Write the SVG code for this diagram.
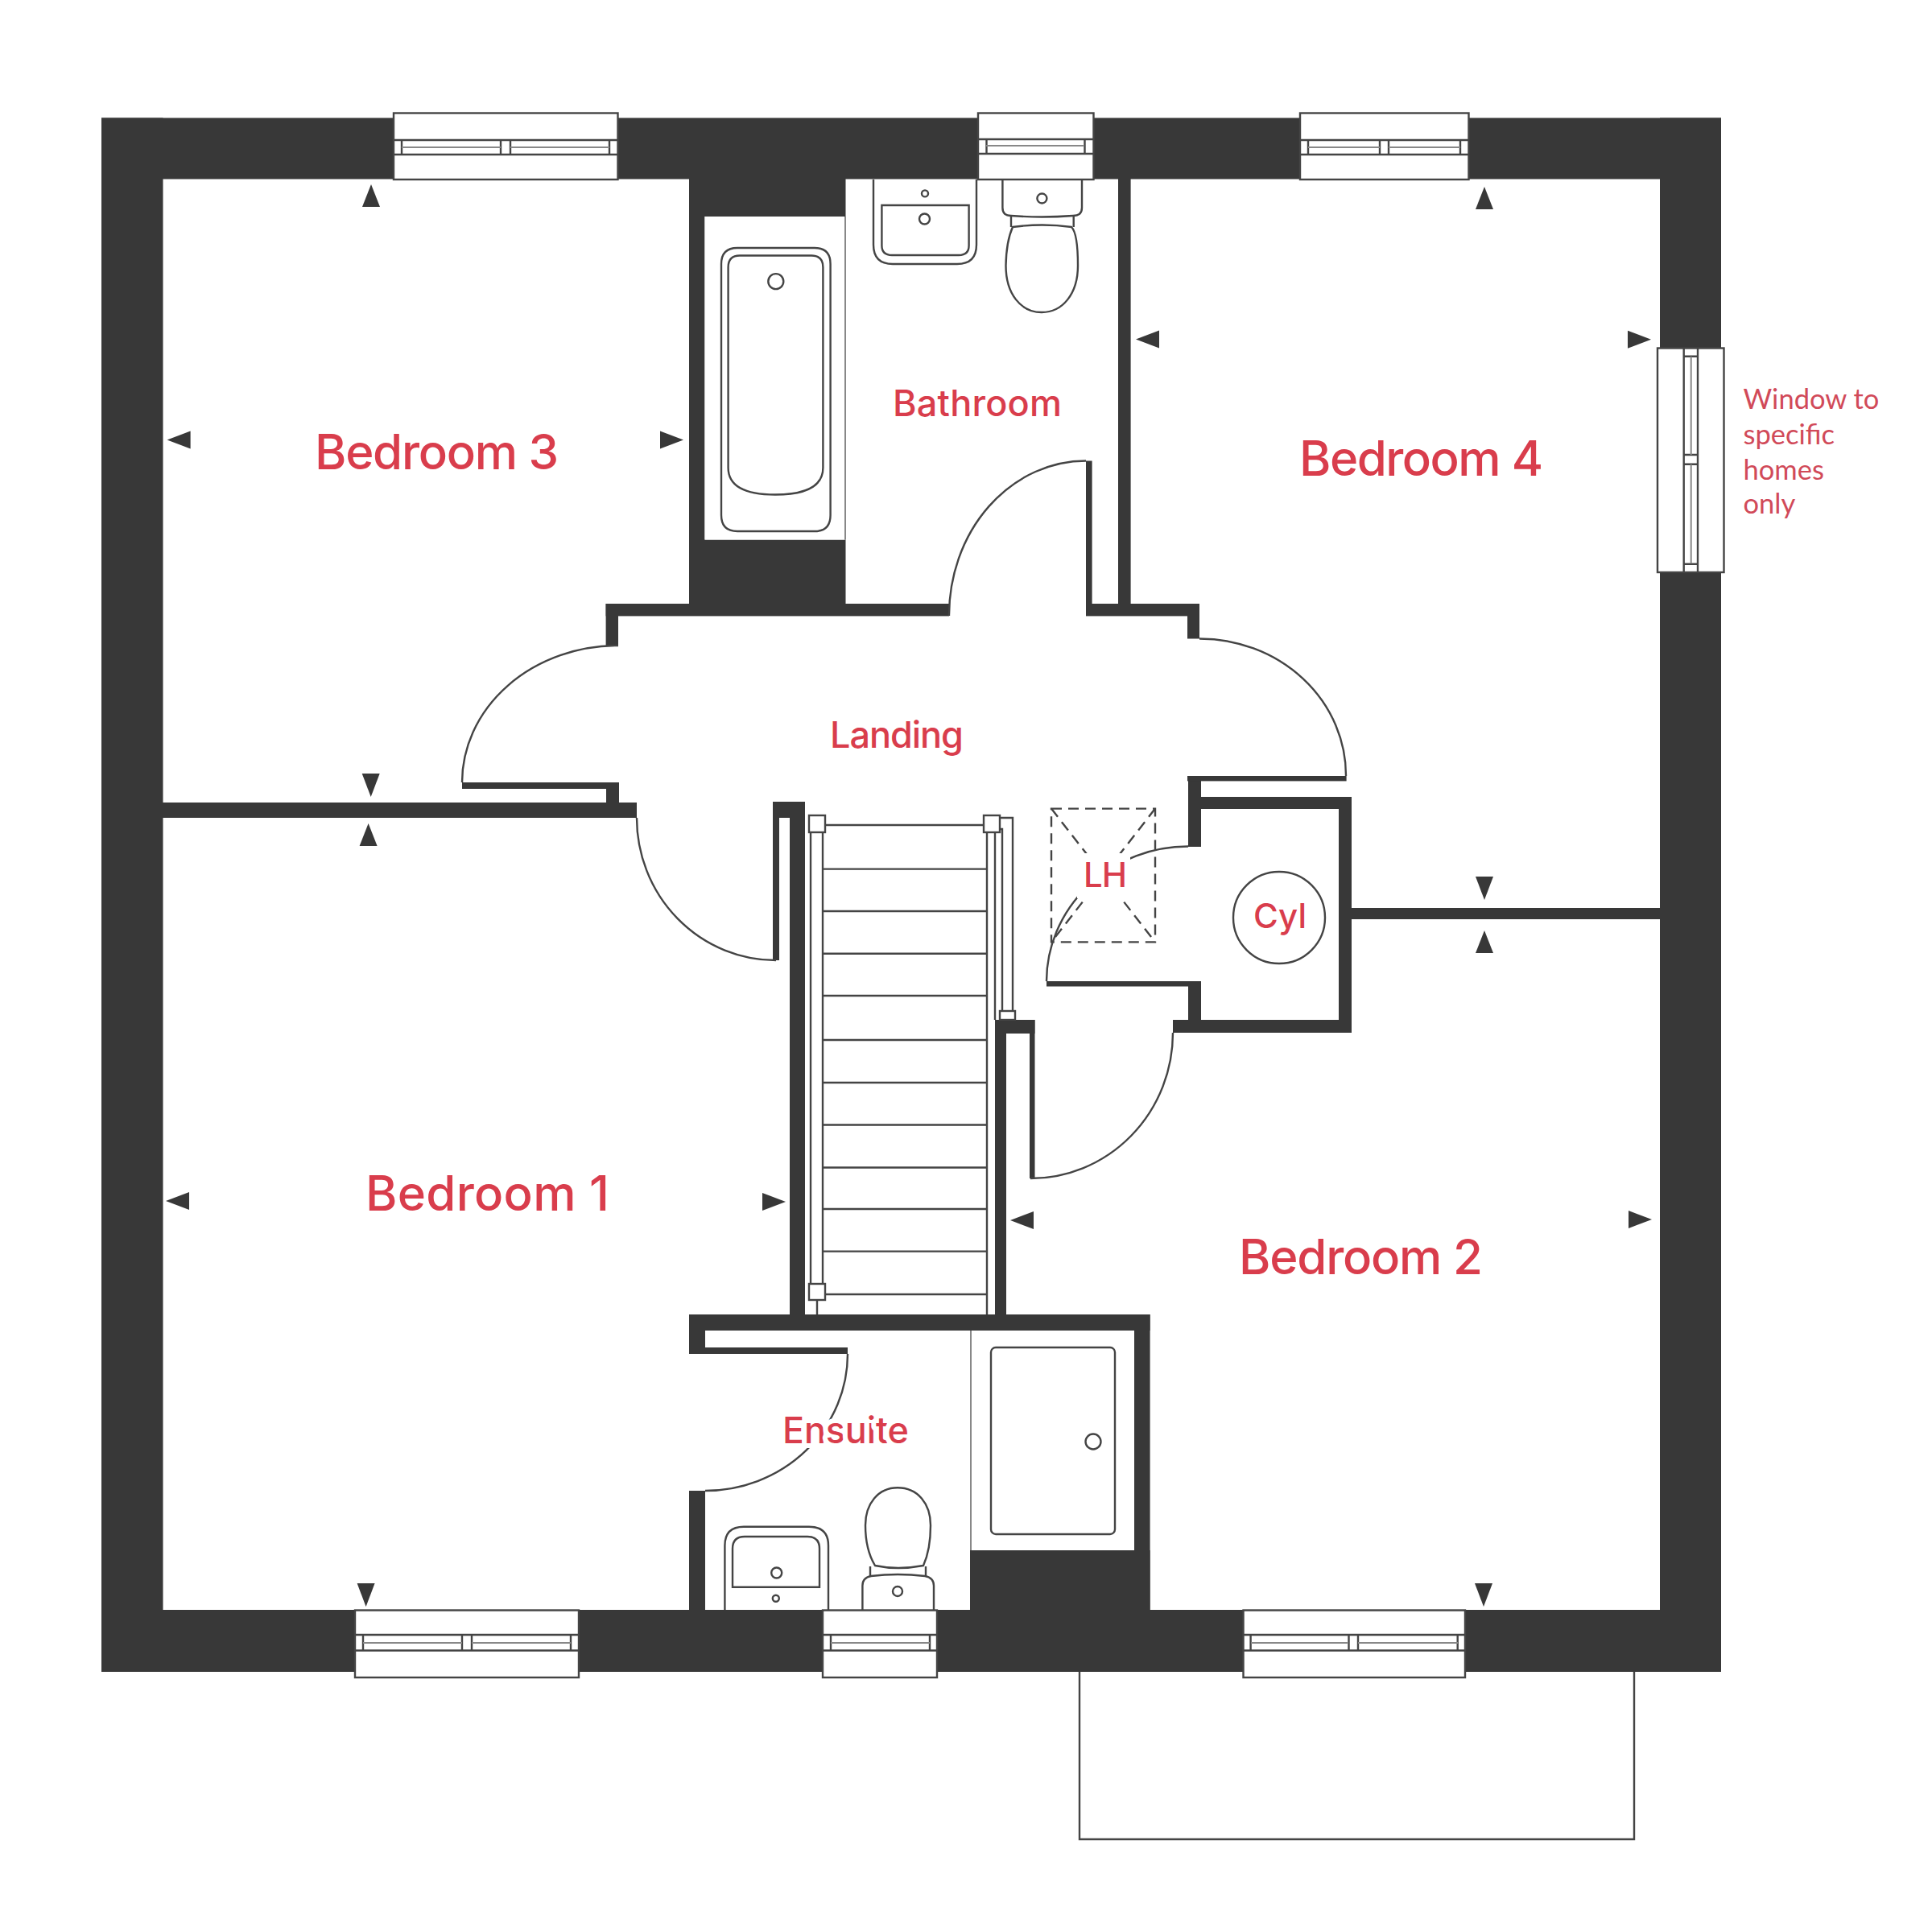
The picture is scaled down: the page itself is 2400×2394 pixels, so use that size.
<svg xmlns="http://www.w3.org/2000/svg" width="2400" height="2394" viewBox="0 0 2400 2394">
<defs>
<style>
.w{fill:#383838}
.l{fill:none;stroke:#444;stroke-width:2.4}
.f{fill:#fff;stroke:#444;stroke-width:2.4}
.g{fill:none;stroke:#888;stroke-width:2}
.d{fill:none;stroke:#444;stroke-width:2.4;stroke-dasharray:13 8}
.a{fill:#383838}
.t{font-family:"Inter","Liberation Sans",sans-serif;fill:#d93d4c;font-weight:500}
.r{font-size:60px}
.s{font-size:45px}
.n{font-family:"Lato","Liberation Sans",sans-serif;font-size:34.5px;fill:#d14a59}
.h{paint-order:stroke;stroke:#fff;stroke-width:12px;stroke-linejoin:round}
</style>
<path id="au" class="a" d="M0 0L11 28H-11Z"/>
<path id="ad" class="a" d="M0 0L11 -29H-11Z"/>
<path id="al" class="a" d="M0 0L29 -11V11Z"/>
<path id="ar" class="a" d="M0 0L-29 -11V11Z"/>
</defs>
<rect width="2400" height="2394" fill="#fff"/>

<g id="bay"><path class="l" d="M1341 2077V2285H2030V2077"/></g>

<g id="walls" class="w">
<rect x="126" y="146.5" width="2012" height="76"/>
<rect x="126" y="146.5" width="76.500" height="1930.500"/>
<rect x="126" y="2000" width="2012" height="77"/>
<rect x="2062" y="146.500" width="76" height="1930.500"/>
<rect x="856" y="222" width="194.500" height="47"/>
<rect x="856" y="222" width="19.500" height="543"/>
<rect x="856" y="670.500" width="194.500" height="94.500"/>
<rect x="752.600" y="750" width="426.400" height="15.400"/>
<rect x="752.600" y="750" width="15.400" height="52.600"/>
<rect x="1349" y="750" width="141" height="15.400"/>
<rect x="1349" y="572.500" width="7.600" height="192.500"/>
<rect x="1389" y="222" width="15.600" height="530"/>
<rect x="1475" y="750" width="15" height="43.500"/>
<rect x="574" y="972" width="195" height="8"/>
<rect x="753" y="972" width="16" height="26"/>
<rect x="202" y="997" width="589" height="19"/>
<rect x="960" y="996" width="40" height="20"/>
<rect x="960" y="996" width="8" height="197"/>
<rect x="981" y="996" width="19" height="644"/>
<rect x="856" y="1633" width="572.600" height="20"/>
<rect x="856" y="1633" width="20" height="49"/>
<rect x="856" y="1674" width="197" height="8"/>
<rect x="1409" y="1633" width="19.600" height="367"/>
<rect x="1205" y="1926" width="223.600" height="74"/>
<rect x="856" y="1852" width="20" height="148"/>
<rect x="1236" y="1267" width="14" height="373"/>
<rect x="1236" y="1267" width="49.500" height="17"/>
<rect x="1279" y="1267" width="6.500" height="197"/>
<rect x="1476" y="964" width="16" height="88"/>
<rect x="1475" y="964" width="197.600" height="6.400"/>
<rect x="1492" y="990" width="187" height="15"/>
<rect x="1663" y="990" width="16" height="293"/>
<rect x="1457" y="1267" width="222" height="16"/>
<rect x="1476" y="1219" width="16" height="64"/>
<rect x="1300" y="1219" width="192" height="6.500"/>
<rect x="1679" y="1128" width="383" height="14"/>
</g>

<g id="doors">
<path class="l" d="M768 802A194 170 0 0 0 574 972"/>
<path class="l" d="M1490 793.500A182 170 0 0 1 1672 964"/>
<path class="l" d="M791 1016A173 177 0 0 0 964 1193"/>
<path class="l" d="M1349 572.500A170 192 0 0 0 1179 765"/>
<path class="l" d="M1476 1051.500A176 168 0 0 0 1300 1219"/>
<path class="l" d="M1457 1283A177 181 0 0 1 1280 1464"/>
<path class="l" d="M1053 1682A177 170 0 0 1 876 1852"/>
</g>

<g id="window-bed3">
<rect class="f" x="489" y="140.500" width="278.500" height="82.500"/>
<path class="l" d="M489 174H767M489 192H767M499 174V192M622 174V192M634 174V192M757 174V192"/>
<path class="g" d="M499 183H622M634 183H757"/>
</g>
<g id="window-bath">
<rect class="f" x="1215" y="140.500" width="143.500" height="82.500"/>
<path class="l" d="M1215 173H1358M1215 191H1358M1225.500 173V191M1347.500 173V191"/>
<path class="g" d="M1225 181H1347"/>
</g>
<g id="window-bed4">
<rect class="f" x="1615" y="140.500" width="209.500" height="82.500"/>
<path class="l" d="M1615 174H1824M1615 192H1824M1625 174V192M1714 174V192M1725 174V192M1814 174V192"/>
<path class="g" d="M1625 183H1714M1725 183H1814"/>
</g>
<g id="window-side">
<rect class="f" x="2059" y="432.500" width="82.500" height="278.500"/>
<path class="l" d="M2091.700 432V711M2109 432V711M2091.700 442.700H2109M2091.700 565H2109M2091.700 576.700H2109M2091.700 700.700H2109"/>
<path class="g" d="M2100.700 443V565M2100.700 577V700"/>
</g>
<g id="window-bed1">
<rect class="f" x="441" y="2000.500" width="278" height="83.500"/>
<path class="l" d="M441 2031H719M441 2050.500H719M451 2031V2050M574 2031V2050M586 2031V2050M709 2031V2050"/>
<path class="g" d="M451 2041H574M586 2041H709"/>
</g>
<g id="window-ensuite">
<rect class="f" x="1022" y="2000.500" width="142" height="83.500"/>
<path class="l" d="M1022 2031H1164M1022 2050.500H1164M1032 2031V2050M1155 2031V2050"/>
<path class="g" d="M1032 2041H1155"/>
</g>
<g id="window-bed2">
<rect class="f" x="1544.500" y="2000.500" width="275.500" height="83.500"/>
<path class="l" d="M1544 2031H1820M1544 2050.500H1820M1553.600 2031V2050M1675.500 2031V2050M1687 2031V2050M1810.700 2031V2050"/>
<path class="g" d="M1554 2041H1675M1687 2041H1811"/>
</g>

<g id="bath">
<rect x="875.500" y="269" width="173.500" height="401.500" fill="#fff"/>
<path class="g" d="M1050 269V670.500"/>
<path class="l" d="M916 308H1012Q1031.600 308 1031.600 328V640Q1031.600 660 1012 660H916Q896 660 896 640V328Q896 308 916 308Z"/>
<path class="l" d="M919 317.500H1008Q1022.400 317.500 1022.400 332V581Q1022.400 614.500 963 614.500Q904.600 614.500 904.600 581V332Q904.600 317.500 919 317.500Z"/>
<circle class="l" cx="963.800" cy="349.600" r="9.500"/>
</g>
<g id="bath-basin">
<path class="l" d="M1085 223V304Q1085 328 1109 328H1189Q1213 328 1213 304V223"/>
<path class="l" d="M1095.400 255H1203.600V305Q1203.600 317 1191 317H1108Q1095.400 317 1095.400 305Z"/>
<circle class="l" cx="1149" cy="240.400" r="4"/>
<circle class="l" cx="1148.500" cy="272" r="6.500"/>
</g>
<g id="bath-wc">
<path class="l" d="M1245.400 223V258Q1245.400 268 1256 268Q1294 271 1333 268Q1344 268 1344 258V223"/>
<path class="l" d="M1256 268V282M1333.700 268V282"/>
<path class="l" d="M1258 282Q1295 277 1331 282Q1339 290 1339 330C1339 365 1320 388 1294 388C1268 388 1249.500 365 1249.500 330Q1250 300 1258 282Z"/>
<circle class="l" cx="1294.400" cy="246.500" r="6"/>
</g>

<g id="shower">
<rect x="1206" y="1653" width="203" height="273" fill="#fff"/>
<path class="g" d="M1206 1653V1926"/>
<rect class="l" x="1231" y="1674" width="154" height="232" rx="6"/>
<circle class="l" cx="1358" cy="1791" r="9.500"/>
</g>
<g id="ensuite-basin">
<path class="l" d="M900.400 2000V1920Q900.400 1896.700 924 1896.700H1005Q1029 1896.700 1029 1920V2000"/>
<path class="l" d="M910 1971.700V1924Q910 1909 925 1909H1003Q1018 1909 1018 1924V1971.700Z"/>
<circle class="l" cx="964.700" cy="1954" r="6.500"/>
<circle class="l" cx="963.800" cy="1985.700" r="4"/>
</g>
<g id="ensuite-wc">
<path class="l" d="M1087 1945Q1115 1951 1147 1945Q1156 1925 1156 1895C1156 1868 1140 1848.300 1115 1848.300C1091 1848.300 1075 1868 1075 1895Q1075 1925 1087 1945Z"/>
<path class="l" d="M1081 1946V1958M1150 1946V1958"/>
<path class="l" d="M1071.400 2000V1970Q1071.400 1960 1082 1958Q1115 1954 1149 1958Q1160 1960 1160 1970V2000"/>
<circle class="l" cx="1115" cy="1977" r="6"/>
</g>

<g id="stairs">
<path class="l" d="M1022 1025H1226M1022 1079.600H1226M1022 1132H1226M1022 1184.700H1226M1022 1237H1226M1022 1292H1226M1022 1345H1226M1022 1397.500H1226M1022 1450.500H1226M1022 1502H1226M1022 1554.600H1226M1022 1608H1226"/>
<path class="l" d="M1007 1034V1595M1022 1034V1595M1015 1615V1633"/>
<path class="l" d="M1226 1034V1633M1236 1034V1267"/>
<path class="l" d="M1242 1016H1258V1256M1242 1030H1245V1256"/>
<rect class="f" x="1005" y="1013" width="20" height="21"/>
<rect class="f" x="1005" y="1595" width="20" height="20"/>
<rect class="f" x="1222" y="1013" width="20" height="21"/>
<rect class="f" x="1242" y="1256" width="19" height="11"/>
</g>

<g id="loft-hatch">
<rect class="d" x="1306" y="1004.600" width="129" height="165.800"/>
<path class="d" d="M1306 1004.600L1435 1170.400M1435 1004.600L1306 1170.400"/>
<rect x="1338" y="1060" width="66" height="56" fill="#fff"/>
<text class="t" x="1346" y="1101.500" font-size="42" textLength="54">LH</text>
</g>

<g id="cylinder">
<circle class="l" cx="1589" cy="1140" r="57"/>
<text class="t" x="1557" y="1152.500" font-size="42" textLength="66">Cyl</text>
</g>

<g id="dimension-arrows">
<use href="#au" x="461" y="229"/>
<use href="#al" x="207.600" y="546.500"/>
<use href="#ar" x="849" y="546.500"/>
<use href="#ad" x="460.700" y="990"/>
<use href="#au" x="457.600" y="1023"/>
<use href="#al" x="206" y="1492"/>
<use href="#ar" x="976" y="1493"/>
<use href="#ad" x="454.600" y="1996"/>
<use href="#au" x="1844" y="232"/>
<use href="#al" x="1411" y="421.500"/>
<use href="#ar" x="2051" y="421.700"/>
<use href="#ad" x="1844" y="1118"/>
<use href="#au" x="1844" y="1156"/>
<use href="#al" x="1255" y="1516"/>
<use href="#ar" x="2052" y="1515"/>
<use href="#ad" x="1843" y="1996"/>
</g>

<g id="labels">
<text class="t r" x="391" y="583" textLength="303">Bedroom 3</text>
<text class="t r" x="1614" y="591" textLength="303">Bedroom 4</text>
<text class="t r" x="454" y="1504" textLength="303">Bedroom 1</text>
<text class="t r" x="1539" y="1583" textLength="303">Bedroom 2</text>
<text class="t s" x="1109" y="517" textLength="210">Bathroom</text>
<text class="t s" x="1031" y="929" textLength="166">Landing</text>
<text class="t s h" x="972" y="1792.700" textLength="157">Ensuite</text>
<text class="n" x="2165.500" y="508">Window to</text>
<text class="n" x="2165.500" y="551.500">specific</text>
<text class="n" x="2165.500" y="595.500">homes</text>
<text class="n" x="2165.500" y="638">only</text>
</g>
</svg>
